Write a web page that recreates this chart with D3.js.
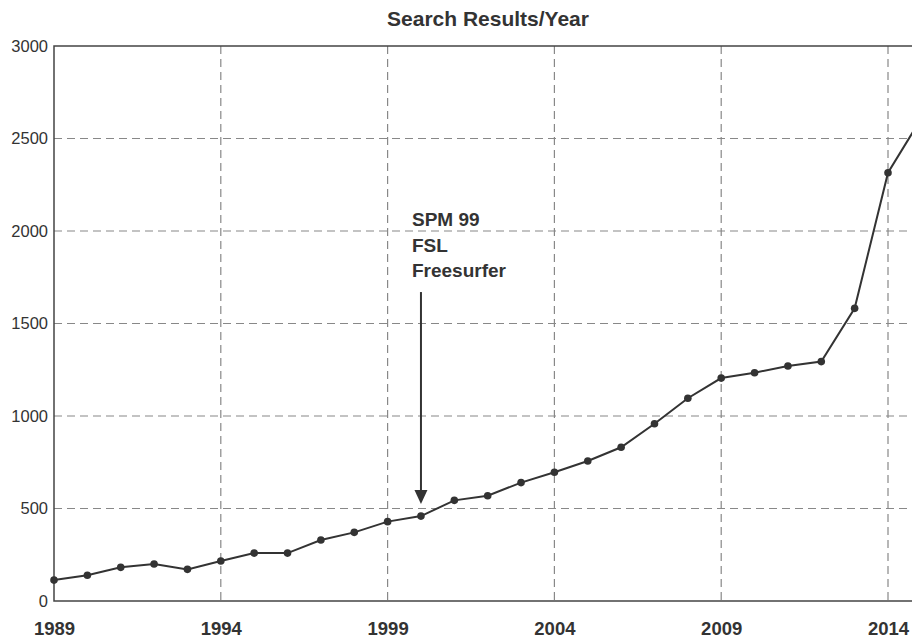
<!DOCTYPE html>
<html>
<head>
<meta charset="utf-8">
<script src="https://cdn.jsdelivr.net/npm/d3@7"></script>
<style>
  html, body { margin: 0; padding: 0; background: #fff; }
  svg { display: block; font-family: "Liberation Sans", Arial, sans-serif; }
</style>
</head>
<body>
<div id="chart"></div>
<script>
// data
var years = [1989, 1990, 1991, 1992, 1993, 1994, 1995, 1996, 1997, 1998, 1999, 2000, 2001, 2002,
             2003, 2004, 2005, 2006, 2007, 2008, 2009, 2010, 2011, 2012, 2013, 2014, 2015];
var results = [113, 139, 182, 200, 171, 216, 259, 259, 330, 371, 429, 459, 544, 569,
               640, 696, 757, 831, 958, 1096, 1205, 1234, 1270, 1294, 1582, 2315, 2610];
var xTicks = [1989, 1994, 1999, 2004, 2009, 2014];
var yTicks = [0, 500, 1000, 1500, 2000, 2500, 3000];
var noteLines = ["SPM 99", "FSL", "Freesurfer"];
var noteYear = 2000;
var noteFrom = 1670, noteTo = 525;

var width = 912, height = 639;
var margin = {top: 46, left: 54, bottom: 38};
var ink = "#333";

var svg = d3.select("#chart").append("svg")
  .attr("width", width)
  .attr("height", height);

var x = d3.scaleLinear().domain([1989, 2014]).range([margin.left, 888]);
var y = d3.scaleLinear().domain([0, 3000]).range([height - margin.bottom, margin.top]);

// title
svg.append("text")
  .attr("x", 488)
  .attr("y", 26)
  .attr("text-anchor", "middle")
  .attr("font-size", 21)
  .attr("font-weight", "bold")
  .attr("fill", ink)
  .text("Search Results/Year");

// grid
svg.append("g").selectAll("line")
  .data(yTicks.filter(function(d) { return d > 0 && d < 3000; }))
  .enter().append("line")
  .attr("x1", margin.left).attr("x2", width)
  .attr("y1", function(d) { return y(d); })
  .attr("y2", function(d) { return y(d); })
  .attr("stroke", "#888").attr("stroke-width", 1.2)
  .attr("stroke-dasharray", "8,5");

svg.append("g").selectAll("line")
  .data(xTicks.slice(1))
  .enter().append("line")
  .attr("x1", function(d) { return x(d); })
  .attr("x2", function(d) { return x(d); })
  .attr("y1", y(3000)).attr("y2", y(0))
  .attr("stroke", "#888").attr("stroke-width", 1.2)
  .attr("stroke-dasharray", "8,5");

// frame (left, top, bottom)
svg.append("path")
  .attr("d", "M" + width + "," + y(3000) + "H" + x(1989) + "V" + y(0) + "H" + width)
  .attr("fill", "none")
  .attr("stroke", "#444")
  .attr("stroke-width", 1.5);

// y labels
var yAxis = svg.append("g")
  .attr("transform", "translate(" + (margin.left - 1) + ",0)")
  .call(d3.axisLeft(y).tickValues(yTicks).tickFormat(d3.format("d")).tickSize(0).tickPadding(5));
yAxis.select(".domain").remove();
yAxis.selectAll("text")
  .attr("font-size", 16.5)
  .attr("font-family", "Liberation Sans, Arial, sans-serif")
  .attr("fill", ink);

// x labels
var xAxis = svg.append("g")
  .attr("transform", "translate(0," + y(0) + ")")
  .call(d3.axisBottom(x).tickValues(xTicks).tickFormat(d3.format("d")).tickSize(0).tickPadding(21));
xAxis.select(".domain").remove();
xAxis.selectAll("text")
  .attr("font-size", 18.5)
  .attr("font-weight", "bold")
  .attr("font-family", "Liberation Sans, Arial, sans-serif")
  .attr("fill", ink);

// series
var pts = years.map(function(d, i) { return [d, results[i]]; });
var line = d3.line()
  .x(function(d) { return x(d[0]); })
  .y(function(d) { return y(d[1]); });

svg.append("path")
  .datum(pts)
  .attr("d", line)
  .attr("fill", "none")
  .attr("stroke", ink)
  .attr("stroke-width", 2);

svg.selectAll(".dot")
  .data(pts)
  .enter().append("circle")
  .attr("class", "dot")
  .attr("cx", function(d) { return x(d[0]); })
  .attr("cy", function(d) { return y(d[1]); })
  .attr("r", 3.8)
  .attr("fill", ink);

// annotation arrow
var ax = x(noteYear);
svg.append("line")
  .attr("x1", ax).attr("x2", ax)
  .attr("y1", y(noteFrom)).attr("y2", y(noteTo) - 12)
  .attr("stroke", ink).attr("stroke-width", 2);
svg.append("path")
  .attr("d", "M" + (ax - 6.5) + "," + (y(noteTo) - 14) + "L" + (ax + 6.5) + "," + (y(noteTo) - 14) + "L" + ax + "," + y(noteTo) + "Z")
  .attr("fill", ink);

svg.append("g").selectAll("text")
  .data(noteLines)
  .enter().append("text")
  .attr("x", ax - 9)
  .attr("y", function(d, i) { return 226 + i * 25.5; })
  .attr("font-size", 19)
  .attr("font-weight", "bold")
  .attr("fill", ink)
  .text(function(d) { return d; });
</script>
</body>
</html>
